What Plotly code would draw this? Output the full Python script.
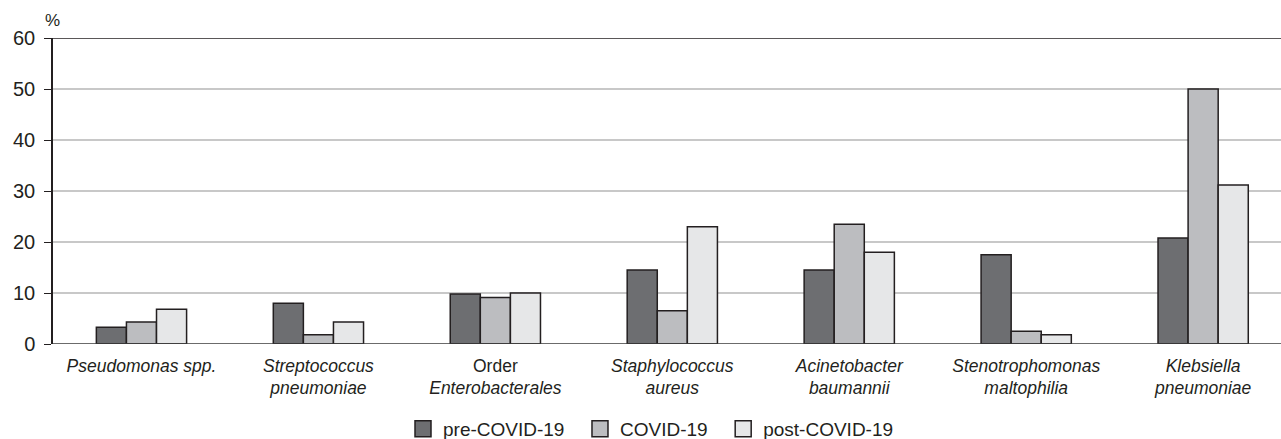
import plotly.graph_objects as go

categories = [
    "<i>Pseudomonas spp.</i>",
    "<i>Streptococcus<br>pneumoniae</i>",
    "Order<br><i>Enterobacterales</i>",
    "<i>Staphylococcus<br>aureus</i>",
    "<i>Acinetobacter<br>baumannii</i>",
    "<i>Stenotrophomonas<br>maltophilia</i>",
    "<i>Klebsiella<br>pneumoniae</i>",
]
pre_covid = [3.3, 8.0, 9.8, 14.5, 14.5, 17.5, 20.8]
covid = [4.3, 1.8, 9.1, 6.5, 23.5, 2.5, 50.0]
post_covid = [6.8, 4.3, 10.0, 23.0, 18.0, 1.8, 31.2]
series_names = ["pre-COVID-19", "COVID-19", "post-COVID-19"]
y_ticks = [0, 10, 20, 30, 40, 50, 60]

colors = ["#6d6e71", "#bcbdc0", "#e6e7e8"]
outline = "#231f20"
font_family = "Liberation Sans, Arial, sans-serif"

fig = go.Figure()
for name, vals, col in zip(series_names, [pre_covid, covid, post_covid], colors):
    fig.add_trace(go.Bar(
        x=categories, y=vals, name=name, showlegend=False,
        marker=dict(color=col, line=dict(color=outline, width=1.5)),
    ))
# legend entries with larger square swatches
legend_labels = [n + ("\u00a0\u00a0" if i < 2 else "") for i, n in enumerate(series_names)]
for name, col in zip(legend_labels, colors):
    fig.add_trace(go.Scatter(
        x=[None], y=[None], mode="markers", name=name,
        marker=dict(symbol="square", size=22, color=col, line=dict(color=outline, width=1.5)),
    ))

fig.update_layout(
    width=1281, height=439,
    margin=dict(l=53, r=0, t=38, b=95),
    paper_bgcolor="white", plot_bgcolor="white",
    barmode="group", bargap=0.49, bargroupgap=0,
    font=dict(family=font_family, color=outline),
    showlegend=True,
    legend=dict(orientation="h", xref="container", yref="container",
                x=403 / 1281, xanchor="left", y=10 / 439, yanchor="middle",
                font=dict(size=19, color=outline), itemsizing="trace", traceorder="normal",
                tracegroupgap=0),
    xaxis=dict(range=[-0.5, 6.44], showgrid=False, showline=False, ticks="",
               tickfont=dict(size=17.5, color=outline), automargin=False, ticklabelstandoff=9),
    yaxis=dict(range=[0, 60], tickvals=y_ticks, showgrid=True, gridcolor="#c8c8c8", gridwidth=1.5,
               showline=True, linecolor=outline, linewidth=1.5, ticks="outside", ticklen=7,
               tickcolor=outline, tickfont=dict(size=20, color=outline), zeroline=False,
               automargin=False, ticklabelstandoff=5),
)
fig.add_shape(type="line", xref="paper", yref="y", x0=0, x1=1, y0=60, y1=60,
              line=dict(color=outline, width=1.5))
fig.add_shape(type="line", xref="paper", yref="y", x0=0, x1=1, y0=0, y1=0,
              line=dict(color="#3a3a3a", width=1.5))
fig.add_annotation(text="%", xref="paper", yref="paper", x=0, y=1.0, xanchor="left", yanchor="bottom",
                   xshift=-10, yshift=6, showarrow=False, font=dict(size=17, color=outline))

fig.write_html("out.html", config={"displayModeBar": False},
               post_script="document.body.style.margin='0';")
